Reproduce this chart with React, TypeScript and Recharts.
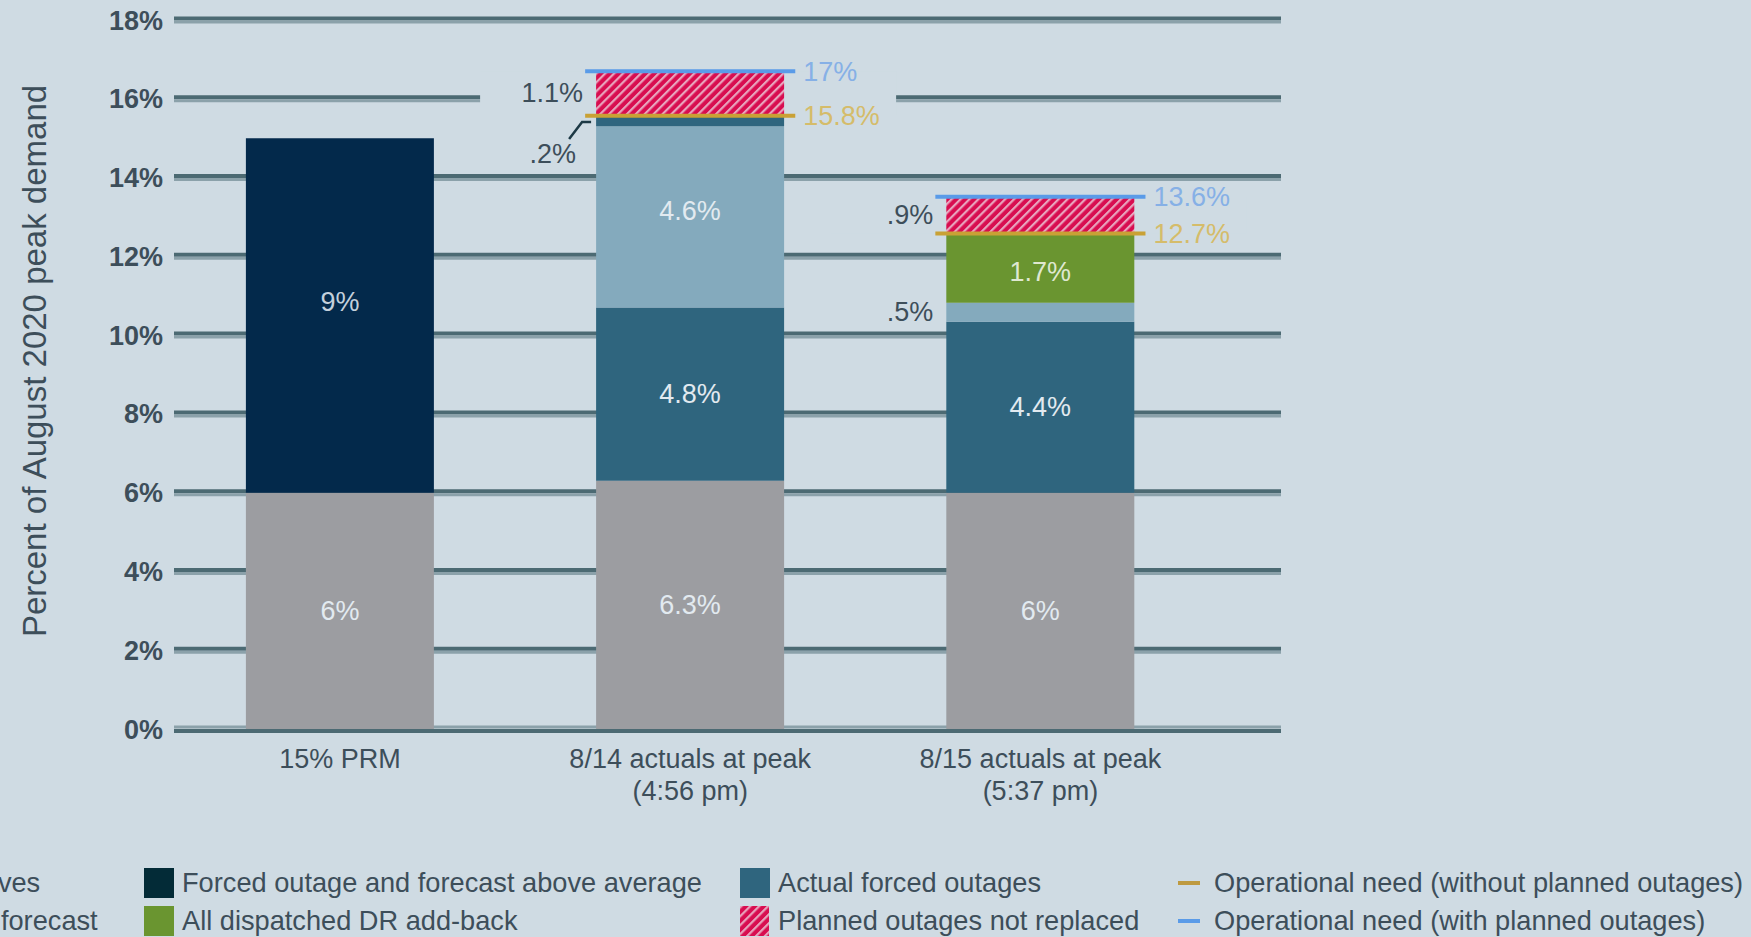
import React from "react";
import { BarChart, Bar, XAxis, YAxis, CartesianGrid, ReferenceLine, LabelList } from "recharts";

// ---------- data ----------
const categoryLine1 = ["15% PRM", "8/14 actuals at peak", "8/15 actuals at peak"];
const categoryLine2 = ["", "(4:56 pm)", "(5:37 pm)"];

const operatingReserves = [6.0, 6.3, 6.0];
const forcedAboveAverage = [9.0, 0, 0];
const actualForcedOutages = [0, 4.4, 4.34];
const demandAboveForecast = [0, 4.6, 0.48];
const drAddBack = [0, 0, 1.76];
const actualForcedTop = [0, 0.27, 0];
const plannedNotReplaced = [0, 1.13, 0.93];

const opNeedWithout: (number | null)[] = [null, 15.57, 12.58];
const opNeedWith: (number | null)[] = [null, 16.7, 13.51];

const reservesLabels = ["6%", "6.3%", "6%"];
const forcedAboveLabels = ["9%", "", ""];
const actualForcedLabels = ["", "4.8%", "4.4%"];
const demandInsideLabels = ["", "4.6%", ""];
const demandOutsideLabels = ["", "", ".5%"];
const drLabels = ["", "", "1.7%"];
const actualTopLabels = ["", ".2%", ""];
const plannedLabels = ["", "1.1%", ".9%"];
const opNeedWithoutLabels = ["", "15.8%", "12.7%"];
const opNeedWithLabels = ["", "17%", "13.6%"];

const yTicks = [0, 2, 4, 6, 8, 10, 12, 14, 16, 18];

const legendLabels = [
  "Operating reserves",
  "Demand above forecast",
  "Forced outage and forecast above average",
  "All dispatched DR add-back",
  "Actual forced outages",
  "Planned outages not replaced",
  "Operational need (without planned outages)",
  "Operational need (with planned outages)",
];

// ---------- styles ----------
const BG = "#cfdbe3";
const TEXT = "#3d4e5a";
const GRAY = "#9c9da1";
const NAVY = "#03294b";
const TEAL = "#2f657e";
const LIGHT = "#84aabd";
const GREEN = "#6a9530";
const RED = "#d80d50";
const GOLD = "#c9a135";
const BLUE = "#5a9be8";
const INSIDE_TEXT = "#e2eaf0";
const FONT = "'Liberation Sans', Arial, sans-serif";
const FS = 27;
const OP_HALF_SPAN = 0.3;

const data = categoryLine1.map((_, i) => ({
  idx: i,
  reserves: operatingReserves[i],
  forcedAbove: forcedAboveAverage[i],
  actualForced: actualForcedOutages[i],
  demandAbove: demandAboveForecast[i],
  dr: drAddBack[i],
  actualTop: actualForcedTop[i],
  planned: plannedNotReplaced[i],
}));

const box = (props: any) => {
  const vb = props.viewBox || props;
  const x = Number(vb.x);
  const w = Number(vb.width);
  let y = Number(vb.y);
  let h = Number(vb.height);
  if (h < 0) {
    y = y + h;
    h = -h;
  }
  return { x, y, w, h };
};

const labelFor = (series: number[], labels: string[], props: any) => {
  const v = Number(props.value);
  if (!v) return "";
  const i = series.findIndex((s) => Math.abs(s - v) < 1e-9);
  return i >= 0 ? labels[i] : "";
};

const makeInside = (series: number[], labels: string[], color = INSIDE_TEXT, dy = 0) => (props: any) => {
  const t = labelFor(series, labels, props);
  if (!t) return null;
  const { x, y, w, h } = box(props);
  return (
    <text x={x + w / 2} y={y + h / 2 + dy} textAnchor="middle" dominantBaseline="central" fill={color} fontSize={FS} fontFamily={FONT}>
      {t}
    </text>
  );
};

const makeOutside = (series: number[], labels: string[]) => (props: any) => {
  const t = labelFor(series, labels, props);
  if (!t) return null;
  const { x, y, h } = box(props);
  return (
    <text x={x - 13} y={y + h / 2} textAnchor="end" dominantBaseline="central" fill={TEXT} fontSize={FS} fontFamily={FONT}>
      {t}
    </text>
  );
};

const makeLeader = (series: number[], labels: string[]) => (props: any) => {
  const t = labelFor(series, labels, props);
  if (!t) return null;
  const { x, y, h } = box(props);
  const yc = y + h / 2;
  return (
    <g>
      <polyline
        points={`${x - 27},${yc + 18} ${x - 14},${yc + 1} ${x - 5},${yc + 1}`}
        fill="none"
        stroke="#1d3945"
        strokeWidth={2.5}
      />
      <text x={x - 20} y={yc + 33} textAnchor="end" dominantBaseline="central" fill={TEXT} fontSize={FS} fontFamily={FONT}>
        {t}
      </text>
    </g>
  );
};

const HatchShape = (props: any) => {
  const { x, y, w, h } = box(props);
  if (!h) return null;
  return (
    <g>
      <rect x={x - 116} y={y} width={w + 228} height={h} fill={BG} />
      <rect x={x} y={y} width={w} height={h} fill="url(#hatchPat)" />
    </g>
  );
};

const GridLine = (props: any) => {
  const { x1, x2, y1 } = props;
  const isBottom = Math.abs(y1 - (props.y + props.height)) < 1;
  const darkY = isBottom ? y1 + 2 : y1 - 1.5;
  const lightY = isBottom ? y1 - 2 : y1 + 2;
  return (
    <g key={props.key}>
      <line x1={x1} x2={x2} y1={darkY} y2={darkY} stroke="#4c6a73" strokeWidth={4} />
      <line x1={x1} x2={x2} y1={lightY} y2={lightY} stroke="#8ba1aa" strokeWidth={3} />
    </g>
  );
};

const CategoryTick = (props: any) => {
  const { x, y, payload } = props;
  const i = Math.round(payload.value);
  return (
    <g>
      <text x={x} y={y + 38.5} textAnchor="middle" fill={TEXT} fontSize={FS} fontFamily={FONT}>
        {categoryLine1[i]}
      </text>
      {categoryLine2[i] ? (
        <text x={x} y={y + 70.5} textAnchor="middle" fill={TEXT} fontSize={FS} fontFamily={FONT}>
          {categoryLine2[i]}
        </text>
      ) : null}
    </g>
  );
};

const YTitle = (props: any) => {
  const vb = props.viewBox || { x: 0, y: 20, height: 709 };
  const cx = vb.x + 34;
  const cy = vb.y + 341;
  return (
    <text
      transform={`translate(${cx},${cy}) rotate(-90)`}
      textAnchor="middle"
      dominantBaseline="central"
      fill={TEXT}
      fontSize={33}
      fontFamily={FONT}
    >
      Percent of August 2020 peak demand
    </text>
  );
};

const legendCols = [-229, 144, 740, 1178];
const legendRows = [868, 906];
const legendSwatches = [
  { kind: "square", color: GRAY },
  { kind: "square", color: LIGHT },
  { kind: "square", color: "#032b37" },
  { kind: "square", color: GREEN },
  { kind: "square", color: TEAL },
  { kind: "hatch", color: RED },
  { kind: "line", color: "#be9a40" },
  { kind: "line", color: BLUE },
];

export default function App() {
  return (
    <div
      style={{
        position: "absolute",
        left: 0,
        top: 0,
        width: 1751,
        height: 937,
        background: BG,
        overflow: "hidden",
        fontFamily: FONT,
      }}
    >
      <svg width={0} height={0} style={{ position: "absolute" }}>
        <defs>
          <pattern id="hatchPat" patternUnits="userSpaceOnUse" width={6.3} height={6.3} patternTransform="rotate(45)">
            <rect width={6.3} height={6.3} fill={RED} />
            <rect width={2.2} height={6.3} fill="#e8a4bd" />
          </pattern>
        </defs>
      </svg>

      <div style={{ position: "absolute", left: 0, top: 0 }}>
        <BarChart
          width={1300}
          height={830}
          data={data}
          margin={{ top: 20, right: 19, left: 0, bottom: 0 }}
          barSize={188}
        >
          <CartesianGrid vertical={false} horizontal={GridLine as any} />
          <XAxis
            dataKey="idx"
            type="number"
            domain={[-0.474, 2.687]}
            ticks={[0, 1, 2]}
            allowDataOverflow
            axisLine={false}
            tickLine={false}
            tickSize={0}
            tickMargin={0}
            height={101}
            tick={<CategoryTick />}
          />
          <YAxis
            domain={[0, 18]}
            ticks={yTicks}
            interval={0}
            width={174}
            axisLine={false}
            tickLine={false}
            tickSize={0}
            tickMargin={11}
            tickFormatter={(v: number) => `${v}%`}
            tick={{ fill: TEXT, fontSize: FS, fontWeight: 700, fontFamily: FONT }}
            label={(p: any) => <YTitle {...p} />}
          />
          <Bar dataKey="reserves" stackId="s" fill={GRAY} isAnimationActive={false}>
            <LabelList dataKey="reserves" content={makeInside(operatingReserves, reservesLabels)} />
          </Bar>
          <Bar dataKey="forcedAbove" stackId="s" fill={NAVY} isAnimationActive={false}>
            <LabelList dataKey="forcedAbove" content={makeInside(forcedAboveAverage, forcedAboveLabels, "#c3d0dc", -13)} />
          </Bar>
          <Bar dataKey="actualForced" stackId="s" fill={TEAL} isAnimationActive={false}>
            <LabelList dataKey="actualForced" content={makeInside(actualForcedOutages, actualForcedLabels)} />
          </Bar>
          <Bar dataKey="demandAbove" stackId="s" fill={LIGHT} isAnimationActive={false}>
            <LabelList dataKey="demandAbove" content={makeInside(demandAboveForecast, demandInsideLabels, INSIDE_TEXT, -6)} />
            <LabelList dataKey="demandAbove" content={makeOutside(demandAboveForecast, demandOutsideLabels)} />
          </Bar>
          <Bar dataKey="dr" stackId="s" fill={GREEN} isAnimationActive={false}>
            <LabelList dataKey="dr" content={makeInside(drAddBack, drLabels, "#dfe8d0", 4)} />
          </Bar>
          <Bar dataKey="actualTop" stackId="s" fill={TEAL} isAnimationActive={false}>
            <LabelList dataKey="actualTop" content={makeLeader(actualForcedTop, actualTopLabels)} />
          </Bar>
          <Bar dataKey="planned" stackId="s" fill={RED} shape={HatchShape} isAnimationActive={false}>
            <LabelList dataKey="planned" content={makeOutside(plannedNotReplaced, plannedLabels)} />
          </Bar>
          {opNeedWithout.map((v, i) =>
            v == null ? null : (
              <ReferenceLine
                key={`ow-${i}`}
                segment={[
                  { x: i - OP_HALF_SPAN, y: v },
                  { x: i + OP_HALF_SPAN, y: v },
                ]}
                stroke={GOLD}
                strokeWidth={4}
                ifOverflow="visible"
                label={{
                  value: opNeedWithoutLabels[i],
                  position: "right",
                  offset: 8,
                  fill: "#d5bc6a",
                  fontSize: FS,
                  fontFamily: FONT,
                }}
              />
            )
          )}
          {opNeedWith.map((v, i) =>
            v == null ? null : (
              <ReferenceLine
                key={`oh-${i}`}
                segment={[
                  { x: i - OP_HALF_SPAN, y: v },
                  { x: i + OP_HALF_SPAN, y: v },
                ]}
                stroke={BLUE}
                strokeWidth={4}
                ifOverflow="visible"
                label={{
                  value: opNeedWithLabels[i],
                  position: "right",
                  offset: 8,
                  fill: "#86b0e6",
                  fontSize: FS,
                  fontFamily: FONT,
                }}
              />
            )
          )}
        </BarChart>
      </div>

      {legendLabels.map((label, k) => {
        const col = Math.floor(k / 2);
        const row = k % 2;
        const sw = legendSwatches[k];
        const left = legendCols[col];
        const top = legendRows[row];
        const textLeft = left + (sw.kind === "line" ? 36 : 38);
        return (
          <React.Fragment key={label}>
            {sw.kind === "line" ? (
              <div style={{ position: "absolute", left, top: top + 13, width: 22, height: 4, background: sw.color }} />
            ) : sw.kind === "hatch" ? (
              <svg style={{ position: "absolute", left, top }} width={29} height={30}>
                <rect width={29} height={30} fill="url(#hatchPat)" />
              </svg>
            ) : (
              <div style={{ position: "absolute", left, top, width: 30, height: 30, background: sw.color }} />
            )}
            <div
              style={{
                position: "absolute",
                left: textLeft,
                top,
                height: 30,
                lineHeight: "30px",
                fontSize: 27.2,
                color: TEXT,
                whiteSpace: "nowrap",
              }}
            >
              {label}
            </div>
          </React.Fragment>
        );
      })}
    </div>
  );
}
